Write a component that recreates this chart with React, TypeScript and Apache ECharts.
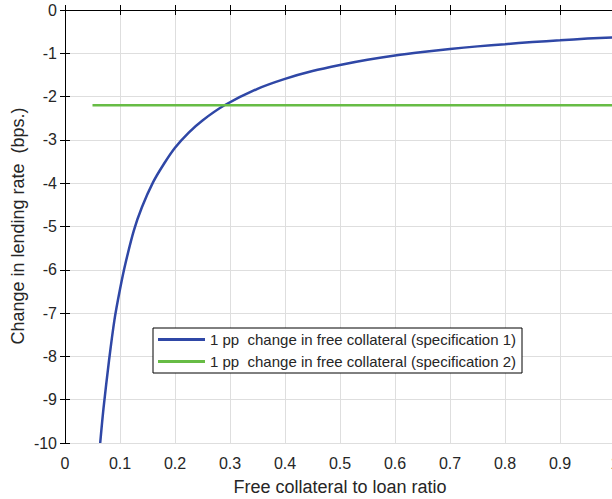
import React, { useEffect, useRef } from "react";
import * as echarts from "echarts";

// Free collateral to loan ratio (x) and change in lending rate in bps (y)
const spec1X = [0.064, 0.07, 0.08, 0.09, 0.1, 0.11, 0.125, 0.14, 0.16, 0.18, 0.2, 0.225, 0.25, 0.29, 0.35, 0.4, 0.45, 0.5, 0.55, 0.6, 0.65, 0.7, 0.75, 0.8, 0.85, 0.9, 0.95, 1.0];
const spec1Y = [-10, -9.2, -8.1, -7.15, -6.45, -5.85, -5.1, -4.55, -3.98, -3.55, -3.18, -2.83, -2.55, -2.2, -1.82, -1.59, -1.41, -1.27, -1.15, -1.05, -0.97, -0.9, -0.84, -0.79, -0.74, -0.7, -0.66, -0.63];
const spec2X = [0.05, 1.0];
const spec2Y = [-2.2, -2.2];

const seriesNames = [
  "1 pp  change in free collateral (specification 1)",
  "1 pp  change in free collateral (specification 2)",
];
const xAxisTitle = "Free collateral to loan ratio";
const yAxisTitle = "Change in lending rate  (bps.)";

const FONT = "'Liberation Sans', Arial, Helvetica, sans-serif";
const TXT = "#262626";

export default function App() {
  const ref = useRef<HTMLDivElement>(null);
  useEffect(() => {
    if (!ref.current) return;
    const chart = echarts.init(ref.current, undefined, { renderer: "svg" });
    const grid = { left: 65, top: 10, width: 550, height: 433 };
    const tick = { show: true, inside: true, length: 5, lineStyle: { color: "#000" } };
    chart.setOption({
      animation: false,
      backgroundColor: "#fff",
      textStyle: { fontFamily: FONT },
      grid,
      legend: {
        orient: "vertical",
        left: 153,
        top: 328,
        padding: [4, 6, 4, 5],
        itemGap: 7,
        itemWidth: 47,
        itemHeight: 3,
        icon: "rect",
        backgroundColor: "#fff",
        borderColor: "#000",
        borderWidth: 1,
        borderRadius: 0,
        data: seriesNames,
        textStyle: { fontSize: 15, color: TXT, fontFamily: FONT },
      },
      xAxis: [
        {
          type: "value",
          min: 0,
          max: 1,
          interval: 0.1,
          position: "bottom",
          axisLine: { show: true, lineStyle: { color: "#000", width: 1 } },
          axisTick: tick,
          splitLine: { show: true, lineStyle: { color: "#dedede", width: 1 } },
          axisLabel: { fontSize: 16, color: TXT, margin: 12, fontFamily: FONT },
        },
        {
          type: "value",
          min: 0,
          max: 1,
          interval: 0.1,
          position: "top",
          axisLine: { show: true, lineStyle: { color: "#000", width: 1 } },
          axisTick: tick,
          splitLine: { show: false },
          axisLabel: { show: false },
        },
      ],
      yAxis: [
        {
          type: "value",
          min: -10,
          max: 0,
          interval: 1,
          position: "left",
          axisLine: { show: true, lineStyle: { color: "#000", width: 1 } },
          axisTick: tick,
          splitLine: { show: true, lineStyle: { color: "#dedede", width: 1 } },
          axisLabel: { fontSize: 16, color: TXT, margin: 8, fontFamily: FONT },
        },
        {
          type: "value",
          min: -10,
          max: 0,
          interval: 1,
          position: "right",
          axisLine: { show: true, lineStyle: { color: "#000", width: 1 } },
          axisTick: tick,
          splitLine: { show: false },
          axisLabel: { show: false },
        },
      ],
      graphic: [
        {
          type: "text",
          x: 18,
          y: 226,
          rotation: Math.PI / 2,
          style: {
            text: yAxisTitle,
            fontSize: 18,
            fontFamily: FONT,
            fill: TXT,
            align: "center",
            verticalAlign: "middle",
          },
        },
        {
          type: "text",
          x: 340,
          y: 487,
          style: {
            text: xAxisTitle,
            fontSize: 18,
            fontFamily: FONT,
            fill: TXT,
            align: "center",
            verticalAlign: "middle",
          },
        },
      ],
      series: [
        {
          name: seriesNames[0],
          type: "line",
          data: spec1X.map((x, i) => [x, spec1Y[i]]),
          showSymbol: false,
          symbol: "none",
          smooth: 0.3,
          lineStyle: { color: "#2F47A6", width: 2.5 },
          itemStyle: { color: "#2F47A6" },
          clip: true,
        },
        {
          name: seriesNames[1],
          type: "line",
          data: spec2X.map((x, i) => [x, spec2Y[i]]),
          showSymbol: false,
          symbol: "none",
          lineStyle: { color: "#67BC45", width: 2.5 },
          itemStyle: { color: "#67BC45" },
        },
      ],
    });
    return () => chart.dispose();
  }, []);
  return (
    <div style={{ position: "fixed", left: 0, top: 0, width: 612, height: 499, overflow: "hidden", background: "#fff" }}>
      <div ref={ref} style={{ width: 640, height: 499 }} />
    </div>
  );
}
